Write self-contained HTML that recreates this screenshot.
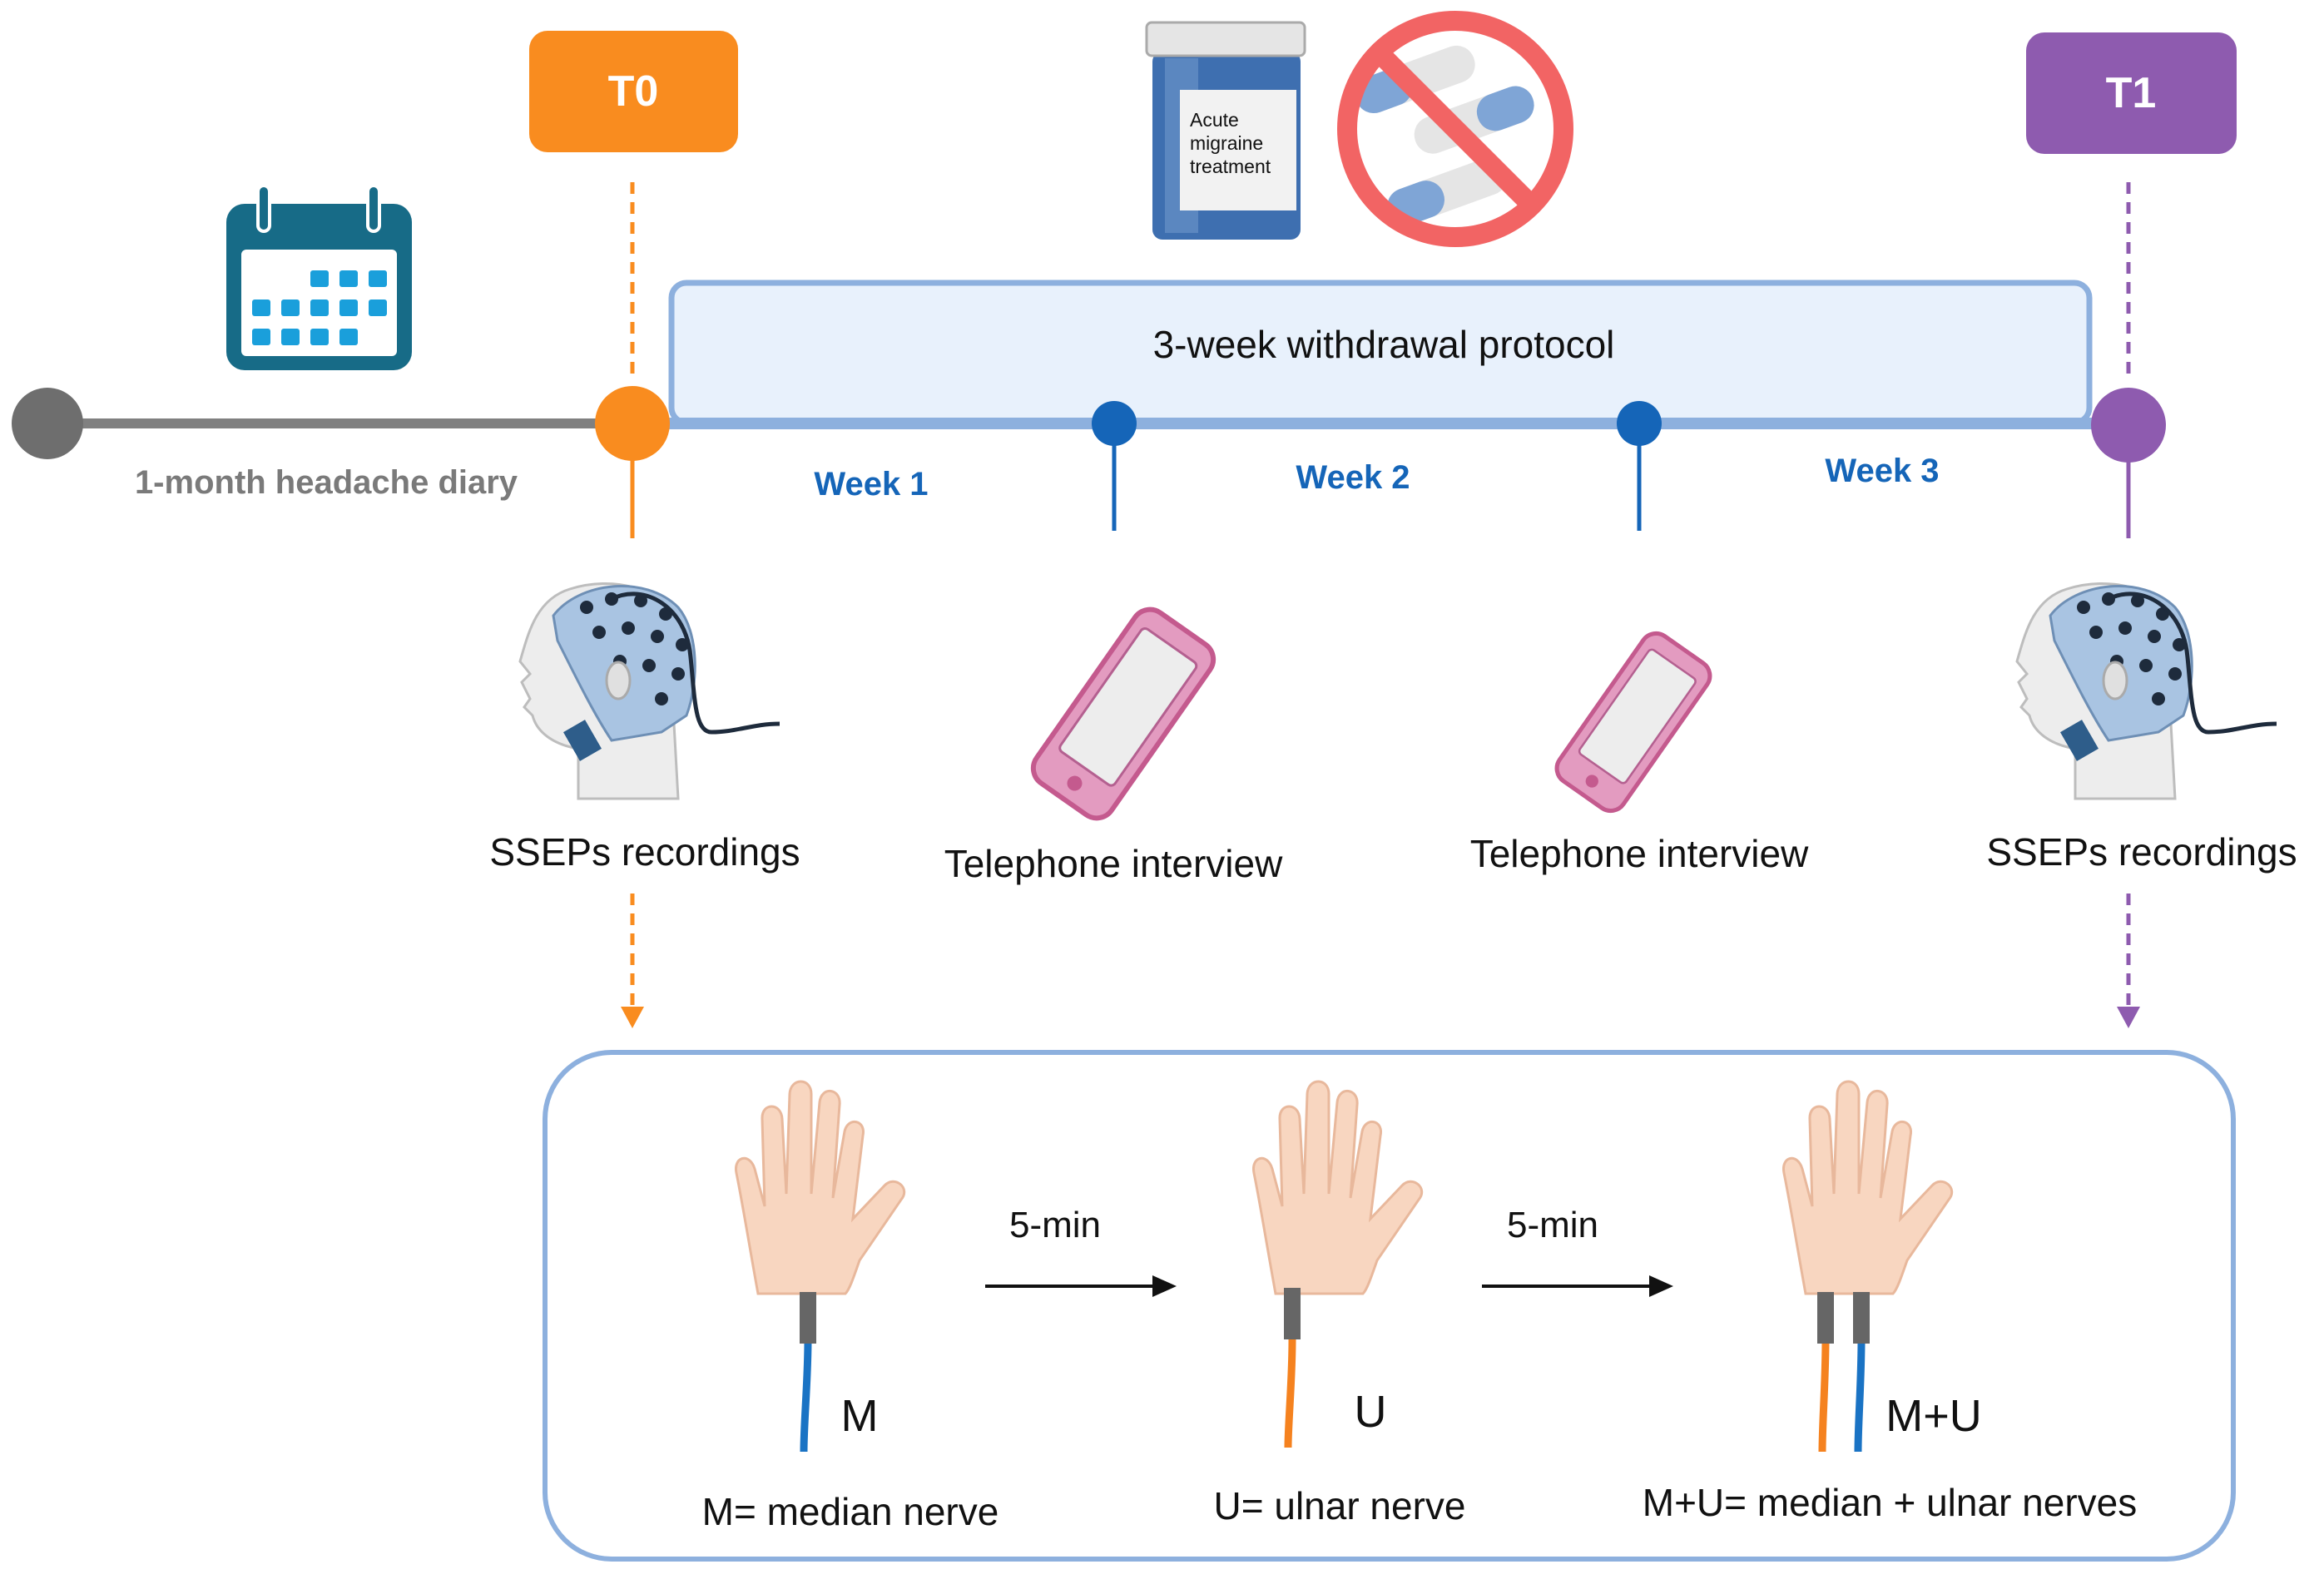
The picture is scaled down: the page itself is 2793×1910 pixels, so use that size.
<!DOCTYPE html>
<html><head><meta charset="utf-8"><style>
html,body{margin:0;padding:0;background:#fff;}
svg{display:block;}
text{font-family:"Liberation Sans",sans-serif;}
</style></head><body>
<svg width="2793" height="1910" viewBox="0 0 2793 1910" xmlns="http://www.w3.org/2000/svg">
<defs>
<g id="hand">
  <path d="M-60,-5 C-70,-60 -78,-110 -86,-150 C-90,-170 -70,-175 -64,-155 L-52,-110 L-55,-215 C-56,-235 -32,-235 -31,-215 L-26,-125 L-22,-245 C-21,-265 4,-265 4,-245 L4,-125 L14,-235 C16,-255 40,-252 38,-232 L30,-120 L44,-200 C48,-218 70,-214 66,-195 L54,-95 L92,-135 C104,-148 124,-132 112,-118 L62,-45 C55,-25 50,-10 45,-5 Z" fill="#F8D6C0" stroke="#E8B89C" stroke-width="3"/>
</g>
<g id="head">
  <path d="M70,260 L70,200 C40,195 20,180 15,160 L5,150 L12,140 L2,120 L12,110 L0,95 C10,60 20,20 60,8 C110,-8 170,5 195,50 C210,90 205,140 185,170 L190,260 Z" fill="#EDEDED" stroke="#BDBDBD" stroke-width="3"/>
  <path d="M40,40 C70,0 150,-10 190,30 C215,60 215,120 200,160 L170,180 L110,190 C90,160 70,120 45,70 Z" fill="#A9C4E2" stroke="#6E8FB5" stroke-width="3"/>
  <g fill="#1E2B3C">
    <circle cx="80" cy="30" r="8"/><circle cx="110" cy="20" r="8"/><circle cx="145" cy="22" r="8"/><circle cx="175" cy="38" r="8"/>
    <circle cx="95" cy="60" r="8"/><circle cx="130" cy="55" r="8"/><circle cx="165" cy="65" r="8"/><circle cx="195" cy="75" r="8"/>
    <circle cx="120" cy="95" r="8"/><circle cx="155" cy="100" r="8"/><circle cx="190" cy="110" r="8"/><circle cx="170" cy="140" r="8"/>
  </g>
  <path d="M110,20 C150,0 200,30 205,90 C210,140 210,180 230,180 C260,180 280,170 312,170" fill="none" stroke="#1E2B3C" stroke-width="5"/>
  <ellipse cx="118" cy="118" rx="14" ry="22" fill="#E0E0E0" stroke="#AAA" stroke-width="3"/>
  <rect x="60" y="170" width="30" height="40" fill="#2E5D8A" transform="rotate(-30 75 190)"/>
</g>
<g id="phone">
  <rect x="-55" y="-125" width="110" height="250" rx="22" fill="#E39BC0" stroke="#C45A8E" stroke-width="6"/>
  <rect x="-40" y="-100" width="80" height="180" rx="6" fill="#EDEDED" stroke="#B46090" stroke-width="3"/>
  <circle cx="0" cy="102" r="9" fill="#C45A8E"/>
</g>
</defs>

<!-- timeline -->
<line x1="57" y1="509" x2="760" y2="509" stroke="#808080" stroke-width="12"/>
<circle cx="57" cy="509" r="43" fill="#6E6E6E"/>
<rect x="807" y="340" width="1704" height="168" rx="18" fill="#E8F1FC" stroke="#8DB0DE" stroke-width="7"/>
<line x1="760" y1="509" x2="2557" y2="509" stroke="#8DB0DE" stroke-width="14"/>
<text x="1663" y="430" font-size="46" text-anchor="middle" fill="#111">3-week withdrawal protocol</text>

<!-- T0 -->
<rect x="636" y="37" width="251" height="146" rx="22" fill="#F98C1F"/>
<text x="761" y="127" font-size="52" text-anchor="middle" fill="#fff" font-weight="bold">T0</text>
<line x1="760" y1="219" x2="760" y2="454" stroke="#F98C1F" stroke-width="5" stroke-dasharray="14,10"/>
<line x1="760" y1="540" x2="760" y2="647" stroke="#F98C1F" stroke-width="5"/>
<circle cx="760" cy="509" r="45" fill="#F98C1F"/>
<line x1="760" y1="1074" x2="760" y2="1215" stroke="#F98C1F" stroke-width="5" stroke-dasharray="14,10"/>
<polygon points="746,1210 774,1210 760,1236" fill="#F98C1F"/>

<!-- T1 -->
<rect x="2435" y="39" width="253" height="146" rx="22" fill="#8E5BAF"/>
<text x="2561" y="129" font-size="52" text-anchor="middle" fill="#fff" font-weight="bold">T1</text>
<line x1="2558" y1="219" x2="2558" y2="454" stroke="#8E5BAF" stroke-width="5" stroke-dasharray="14,10"/>
<line x1="2558" y1="540" x2="2558" y2="647" stroke="#8E5BAF" stroke-width="5"/>
<circle cx="2558" cy="511" r="45" fill="#8E5BAF"/>
<line x1="2558" y1="1074" x2="2558" y2="1215" stroke="#8E5BAF" stroke-width="5" stroke-dasharray="14,10"/>
<polygon points="2544,1210 2572,1210 2558,1236" fill="#8E5BAF"/>

<!-- week dots -->
<line x1="1339" y1="509" x2="1339" y2="638" stroke="#1565B8" stroke-width="5"/>
<circle cx="1339" cy="509" r="27" fill="#1565B8"/>
<line x1="1970" y1="509" x2="1970" y2="638" stroke="#1565B8" stroke-width="5"/>
<circle cx="1970" cy="509" r="27" fill="#1565B8"/>
<g font-size="40" font-weight="bold" fill="#1565B8" text-anchor="middle">
<text x="1047" y="595">Week 1</text><text x="1626" y="587">Week 2</text><text x="2262" y="579">Week 3</text>
</g>
<text x="392" y="593" font-size="40" font-weight="bold" fill="#7A7A7A" text-anchor="middle">1-month headache diary</text>

<!-- calendar -->
<rect x="272" y="245" width="223" height="200" rx="22" fill="#176B87"/>
<rect x="290" y="300" width="187" height="128" rx="6" fill="#fff"/>
<rect x="310" y="223" width="14" height="55" rx="7" fill="#176B87" stroke="#fff" stroke-width="4"/>
<rect x="442" y="223" width="14" height="55" rx="7" fill="#176B87" stroke="#fff" stroke-width="4"/>
<g fill="#1A9FDB">
<rect x="373" y="325" width="22" height="20" rx="3"/><rect x="408" y="325" width="22" height="20" rx="3"/><rect x="443" y="325" width="22" height="20" rx="3"/>
<rect x="303" y="360" width="22" height="20" rx="3"/><rect x="338" y="360" width="22" height="20" rx="3"/><rect x="373" y="360" width="22" height="20" rx="3"/><rect x="408" y="360" width="22" height="20" rx="3"/><rect x="443" y="360" width="22" height="20" rx="3"/>
<rect x="303" y="395" width="22" height="20" rx="3"/><rect x="338" y="395" width="22" height="20" rx="3"/><rect x="373" y="395" width="22" height="20" rx="3"/><rect x="408" y="395" width="22" height="20" rx="3"/>
</g>

<!-- pill bottle -->
<rect x="1385" y="62" width="178" height="226" rx="12" fill="#3E6FB0"/>
<rect x="1400" y="70" width="40" height="210" fill="#6F97CC" opacity="0.6"/>
<rect x="1378" y="27" width="190" height="40" rx="6" fill="#E5E5E5" stroke="#AAA" stroke-width="3"/>
<rect x="1418" y="108" width="140" height="145" fill="#F2F2F2"/>
<g font-size="23" fill="#111"><text x="1430" y="152">Acute</text><text x="1430" y="180">migraine</text><text x="1430" y="208">treatment</text></g>

<!-- no sign -->
<g transform="translate(1749,155)">
<g transform="rotate(-20)">
<rect x="-100" y="-95" width="150" height="45" rx="22" fill="#E5E5E5"/><rect x="-100" y="-95" width="70" height="45" rx="22" fill="#7FA5D6"/>
<rect x="-50" y="-25" width="150" height="45" rx="22" fill="#E5E5E5"/><rect x="30" y="-25" width="70" height="45" rx="22" fill="#7FA5D6"/>
<rect x="-110" y="45" width="150" height="45" rx="22" fill="#E5E5E5"/><rect x="-110" y="45" width="70" height="45" rx="22" fill="#7FA5D6"/>
</g>
<circle r="130" fill="none" stroke="#F26464" stroke-width="24"/>
<line x1="-92" y1="-92" x2="92" y2="92" stroke="#F26464" stroke-width="24"/>
</g>

<!-- heads -->
<use href="#head" x="625" y="700"/>
<use href="#head" x="2424" y="700"/>
<text x="775" y="1040" font-size="46" text-anchor="middle" fill="#111">SSEPs recordings</text>
<text x="2574" y="1040" font-size="46" text-anchor="middle" fill="#111">SSEPs recordings</text>

<!-- phones -->
<use href="#phone" transform="translate(1350,858) rotate(35)"/>
<use href="#phone" transform="translate(1963,868) rotate(35) scale(0.85)"/>
<text x="1338" y="1054" font-size="46" text-anchor="middle" fill="#111">Telephone interview</text>
<text x="1970" y="1042" font-size="46" text-anchor="middle" fill="#111">Telephone interview</text>

<!-- bottom box -->
<rect x="655" y="1265" width="2029" height="609" rx="80" fill="none" stroke="#8DB0DE" stroke-width="6"/>

<use href="#hand" transform="translate(971,1560)"/>
<use href="#hand" transform="translate(1593,1560)"/>
<use href="#hand" transform="translate(2230,1560)"/>

<!-- cables -->
<path d="M971,1610 C971,1660 966,1710 966,1745" fill="none" stroke="#1A73C4" stroke-width="9"/>
<rect x="961" y="1553" width="20" height="62" fill="#666"/>
<path d="M1553,1610 C1553,1660 1548,1710 1548,1740" fill="none" stroke="#F5821F" stroke-width="9"/>
<rect x="1543" y="1548" width="20" height="62" fill="#666"/>
<path d="M2194,1610 C2194,1660 2190,1710 2190,1745" fill="none" stroke="#F5821F" stroke-width="9"/>
<rect x="2184" y="1553" width="20" height="62" fill="#666"/>
<path d="M2237,1610 C2237,1660 2233,1710 2233,1745" fill="none" stroke="#1A73C4" stroke-width="9"/>
<rect x="2227" y="1553" width="20" height="62" fill="#666"/>

<!-- arrows -->
<line x1="1184" y1="1546" x2="1390" y2="1546" stroke="#111" stroke-width="4"/>
<polygon points="1385,1533 1414,1546 1385,1559" fill="#111"/>
<line x1="1781" y1="1546" x2="1987" y2="1546" stroke="#111" stroke-width="4"/>
<polygon points="1982,1533 2011,1546 1982,1559" fill="#111"/>
<text x="1268" y="1487" font-size="44" text-anchor="middle" fill="#111">5-min</text>
<text x="1866" y="1487" font-size="44" text-anchor="middle" fill="#111">5-min</text>

<g font-size="54" fill="#111" text-anchor="middle">
<text x="1033" y="1720">M</text><text x="1647" y="1715">U</text><text x="2324" y="1720">M+U</text>
</g>
<g font-size="46" fill="#111" text-anchor="middle">
<text x="1022" y="1833">M= median nerve</text><text x="1610" y="1826">U= ulnar nerve</text><text x="2271" y="1822">M+U= median + ulnar nerves</text>
</g>
</svg>
</body></html>
